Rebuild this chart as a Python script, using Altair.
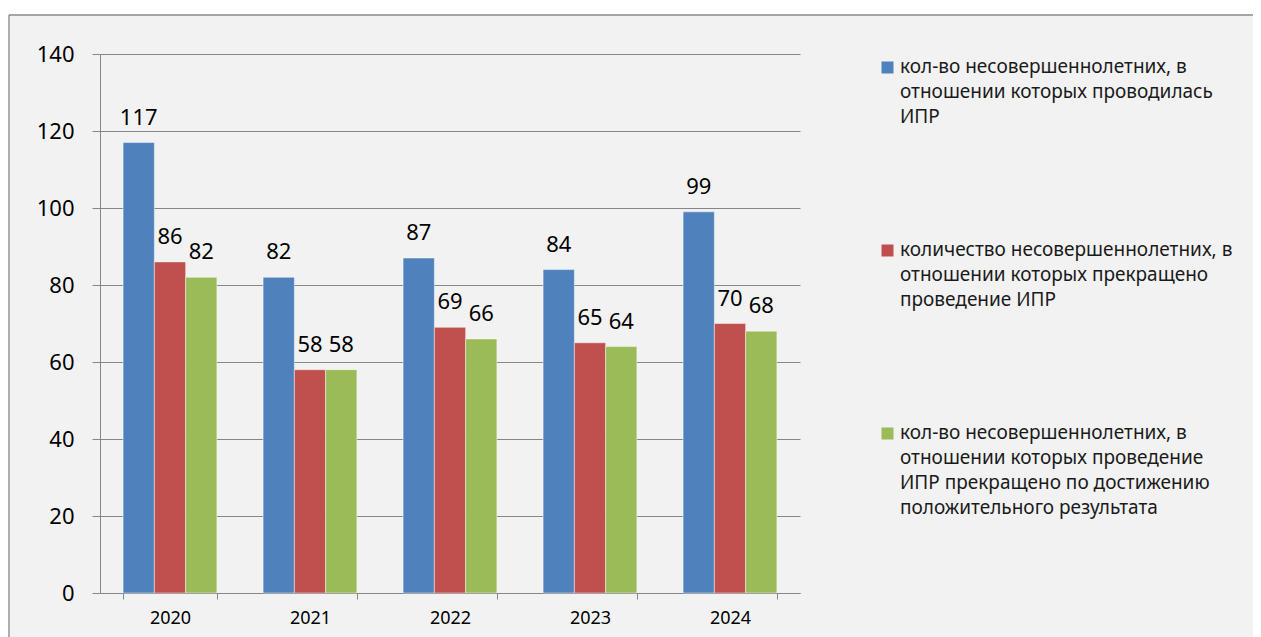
import altair as alt
import pandas as pd

years = ["2020", "2021", "2022", "2023", "2024"]
series_names = [
    "кол-во несовершеннолетних, в\nотношении которых проводилась\nИПР",
    "количество несовершеннолетних, в\nотношении которых прекращено\nпроведение ИПР",
    "кол-во несовершеннолетних, в\nотношении которых проведение\nИПР прекращено по достижению\nположительного результата",
]
values_1 = [117, 82, 87, 84, 99]
values_2 = [86, 58, 69, 65, 70]
values_3 = [82, 58, 66, 64, 68]
colors = ["#4f81bd", "#c0504d", "#9bbb59"]
y_ticks = [0, 20, 40, 60, 80, 100, 120, 140]

rows = []
for name, vals in zip(series_names, [values_1, values_2, values_3]):
    for yr, v in zip(years, vals):
        rows.append({"year": yr, "series": name, "value": v})
df = pd.DataFrame(rows)

FONT = "Noto Sans"
DY = 5  # vertical shift applied to guide labels (legend), compensated on axes

x_enc = alt.X(
    "year:N",
    sort=years,
    scale=alt.Scale(paddingInner=0.33, paddingOuter=0.165),
    axis=alt.Axis(
        title=None,
        labelAngle=0,
        labelFontSize=18,
        labelFont=FONT,
        labelColor="black",
        labelPadding=10 - DY,
        tickBand="extent",
        tickSize=6,
        tickColor="#868686",
        domainColor="#868686",
        grid=False,
    ),
)
y_enc = alt.Y(
    "value:Q",
    scale=alt.Scale(domain=[0, 140], nice=False),
    axis=alt.Axis(
        title=None,
        values=y_ticks,
        labelFontSize=22,
        labelFont=FONT,
        labelColor="black",
        labelPadding=18,
        labelOffset=-DY,
        tickSize=8,
        tickColor="#868686",
        domainColor="#868686",
        gridColor="#868686",
        gridWidth=1,
    ),
)
xoff = alt.XOffset("series:N", sort=series_names, scale=alt.Scale(domain=series_names, paddingInner=0, paddingOuter=0))

one = pd.DataFrame({"k": [0]})
top_strip = alt.Chart(one).mark_rect(color="white").encode(
    x=alt.value(-100), x2=alt.value(1400), y=alt.value(-60), y2=alt.value(-39.7)
)
frame_top = alt.Chart(one).mark_rule(color="#8a8a8a", strokeWidth=1.3).encode(
    x=alt.value(-91), x2=alt.value(1400), y=alt.value(-39)
)
frame_left = alt.Chart(one).mark_rule(color="#8a8a8a", strokeWidth=1.3).encode(
    x=alt.value(-91), y=alt.value(-39), y2=alt.value(800)
)

bars = alt.Chart(df).mark_bar(stroke="white", strokeOpacity=0.45, strokeWidth=1).encode(
    x=x_enc,
    xOffset=xoff,
    y=y_enc,
    color=alt.Color(
        "series:N",
        sort=series_names,
        scale=alt.Scale(domain=series_names, range=colors),
        legend=alt.Legend(
            title=None,
            orient="none",
            legendX=778,
            legendY=4,
            padding=0,
            symbolType="square",
            symbolSize=144,
            symbolStrokeWidth=0,
            labelFont=FONT,
            labelFontSize=19,
            labelColor="#1a1a1a",
            labelLimit=500,
            labelOffset=3,
            labelBaseline="alphabetic",
            labelExpr="split(datum.label, '\\n')",
            rowPadding=113,
        ),
    ),
)

labels = alt.Chart(df).mark_text(
    baseline="alphabetic", dy=-18, fontSize=22, font=FONT, color="black"
).encode(
    x=alt.X("year:N", sort=years),
    xOffset=xoff,
    y=alt.Y("value:Q"),
    text=alt.Text("value:Q"),
)

chart = alt.layer(top_strip, frame_top, frame_left, bars, labels).properties(
    width=700,
    height=539,
    background="#f2f2f2",
    padding={"left": 92, "top": 46, "right": 453, "bottom": 44},
    autosize=alt.AutoSizeParams(type="none"),
).configure(
    style={"guide-label": {"lineHeight": 25, "dy": DY}}
).configure_view(stroke=None).configure_axis(labelFont=FONT)

chart.save("out.html", embed_options={"renderer": "svg", "actions": False})
